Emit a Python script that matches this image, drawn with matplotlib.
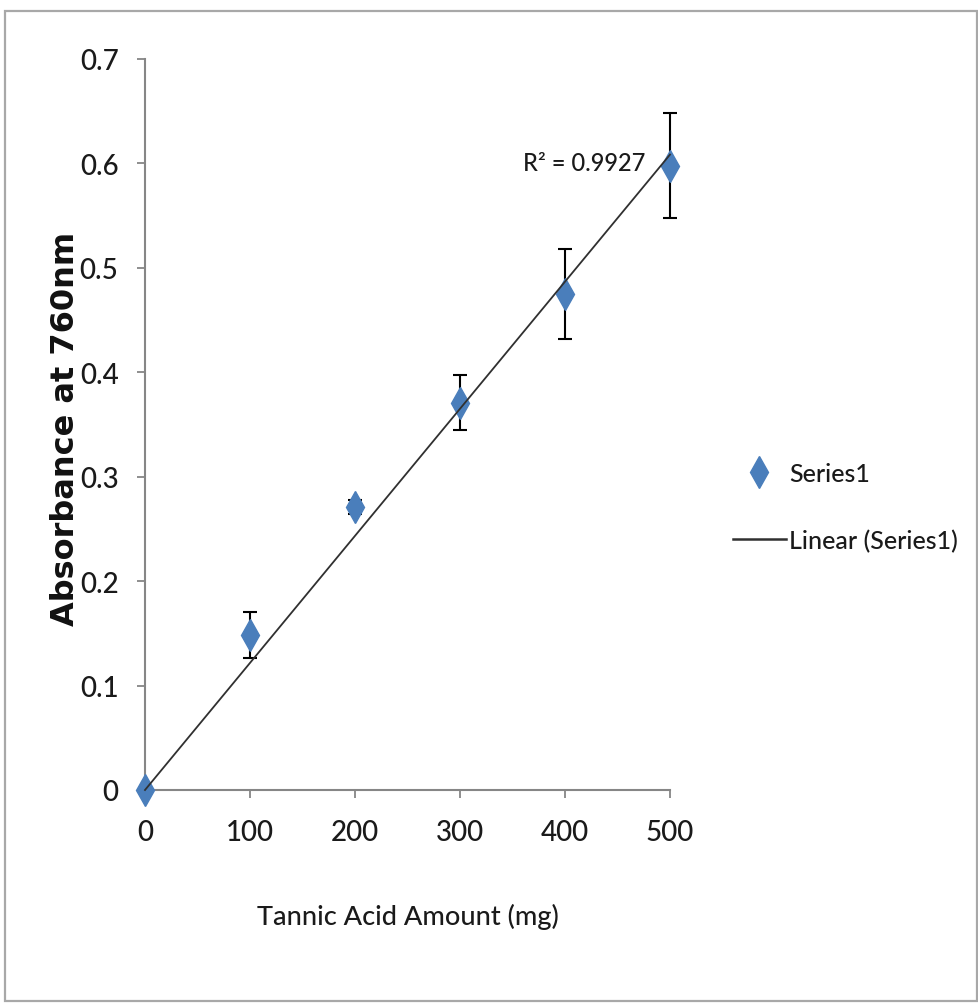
# %%
import matplotlib
matplotlib.use("Agg")
from matplotlib import pyplot as plt
from matplotlib.lines import Line2D
from matplotlib.patches import Rectangle
import numpy as np

# %% data
tannic_mg = np.array([0, 100, 200, 300, 400, 500])
absorbance = np.array([0.0, 0.148, 0.271, 0.371, 0.475, 0.598])
abs_err = np.array([0.0, 0.022, 0.007, 0.026, 0.043, 0.050])
r2_label = "R\u00b2 = 0.9927"
x_ticks = [0, 100, 200, 300, 400, 500]
y_ticks = [0, 0.1, 0.2, 0.3, 0.4, 0.5, 0.6, 0.7]
y_tick_labels = ["0", "0.1", "0.2", "0.3", "0.4", "0.5", "0.6", "0.7"]

# %%
plt.rcParams['font.family'] = ["Lato", "DejaVu Sans"]
plt.rcParams['font.weight'] = 'medium'
blue = '#4a7ebb'
grey = '#868686'
ink = '#1a1a1a'

fig = plt.figure(figsize=(9.79, 10.04), dpi=100)
ax = fig.add_axes([145 / 979, 1 - 791 / 1004, 525 / 979, 731 / 1004])

# linear trendline forced through the origin (Excel style)
slope = np.sum(tannic_mg * absorbance) / np.sum(tannic_mg ** 2)
xs = np.array([tannic_mg.min(), tannic_mg.max()])
ax.plot(xs, slope * xs, color='#303030', lw=1.3, zorder=4, clip_on=False)

ax.errorbar(tannic_mg, absorbance, yerr=abs_err, fmt='none', ecolor='black',
            elinewidth=1.5, capsize=5, capthick=1.5, zorder=2, clip_on=False)
ax.plot(tannic_mg, absorbance, ls='none', marker='d', ms=16, color=blue,
        mec=blue, zorder=3, clip_on=False)

ax.annotate(r2_label, xy=(tannic_mg[-1], absorbance[-1]), xytext=(-18, 2),
            textcoords='offset points', ha='right', va='center', fontsize=17,
            color=ink)

ax.set_xlim(0, 500)
ax.set_ylim(0, 0.7)
ax.set_xticks(x_ticks)
ax.set_yticks(y_ticks)
ax.set_yticklabels(y_tick_labels)
for side in ['top', 'right']:
    ax.spines[side].set_visible(False)
for side in ['left', 'bottom']:
    ax.spines[side].set_color(grey)
    ax.spines[side].set_linewidth(1.5)
ax.tick_params(axis='both', direction='out', length=6, width=1.3, color=grey,
               labelsize=20, labelcolor=ink)
ax.tick_params(axis='y', pad=13)
ax.tick_params(axis='x', pad=15)

fig.text(408 / 979, 1 - 917 / 1004, "Tannic Acid Amount (mg)", ha='center',
         va='center', fontsize=19.5, color=ink)
fig.text(66 / 979, 1 - 429 / 1004, "Absorbance at 760nm", ha='center',
         va='center', rotation=90, fontsize=23, fontweight='bold',
         family=['DejaVu Sans'], color='#111111')

handles = [
    Line2D([], [], ls='none', marker='d', ms=16, color=blue),
    Line2D([], [], color='#303030', lw=1.8),
]
fig.legend(handles, ["Series1", "Linear (Series1)"], loc='center left',
           bbox_to_anchor=(733 / 979, 1 - 508 / 1004), frameon=False,
           fontsize=18, handlelength=2.1, handletextpad=0.15,
           labelspacing=1.75, borderpad=0, borderaxespad=0, labelcolor=ink)

# outer frame of the picture
fig.patches.append(Rectangle((5 / 979, 2 / 1004), 972 / 979, 990 / 1004,
                             transform=fig.transFigure, fill=False,
                             edgecolor='#a8a8a8', lw=1.6))

plt.savefig("out.png", dpi=100)
